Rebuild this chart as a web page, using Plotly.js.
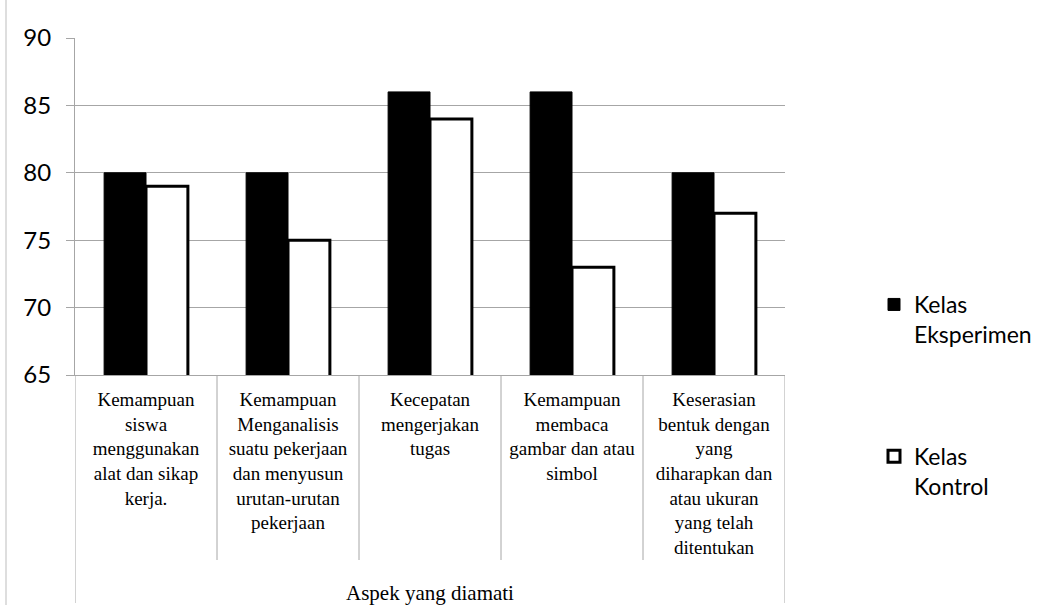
<!DOCTYPE html>
<html>
<head>
<meta charset="utf-8">
<script src="https://cdn.plot.ly/plotly-3.0.1.min.js"></script>
<style>html,body{margin:0;padding:0;background:#fff;}#chart{width:1054px;height:605px;}</style>
</head>
<body>
<div id="chart"></div>
<script>
// ---- data ----
const categoryLines = [
  ["Kemampuan", "siswa", "menggunakan", "alat dan sikap", "kerja."],
  ["Kemampuan", "Menganalisis", "suatu pekerjaan", "dan menyusun", "urutan-urutan", "pekerjaan"],
  ["Kecepatan", "mengerjakan", "tugas"],
  ["Kemampuan", "membaca", "gambar dan atau", "simbol"],
  ["Keserasian", "bentuk dengan", "yang", "diharapkan dan", "atau ukuran", "yang telah", "ditentukan"]
];
const categories = categoryLines.map(l => l.join("<br>"));
const eksperimen = [80, 80, 86, 86, 80];
const kontrol = [79, 75, 84, 73, 77];
const seriesNames = ["Kelas<br>Eksperimen", "Kelas<br>Kontrol"];
const yTicks = [65, 70, 75, 80, 85, 90];
const xTitle = "Aspek yang diamati";

// ---- layout helpers ----
const W = 1054, H = 605;
const mL = 75, mR = 269, mT = 38, mB = 230;
const plotH = H - mT - mB, plotW = W - mL - mR;
const pyFromPx = px => (H - mB - px) / plotH;
const pxToPaperX = px => (px - mL) / plotW;
const gray = '#a6a6a6';

const shapes = [];
for (let i = 0; i <= categories.length; i++) {
  const outer = (i === 0 || i === categories.length);
  shapes.push({
    type: 'line', xref: 'x', yref: 'paper',
    x0: i - 0.5, x1: i - 0.5,
    y0: 0, y1: pyFromPx(outer ? 603 : 560),
    line: {color: gray, width: 1}
  });
}
// outer chart border on the left
shapes.push({type: 'line', xref: 'paper', yref: 'paper',
  x0: pxToPaperX(6), x1: pxToPaperX(6), y0: pyFromPx(0), y1: pyFromPx(605),
  line: {color: '#bdbdbd', width: 1}});

const traces = [
  {type: 'bar', x: categories, y: eksperimen, name: seriesNames[0], legendgroup: 'a',
   marker: {color: '#000000', line: {color: '#000000', width: 1}}},
  {type: 'bar', x: categories, y: kontrol, name: seriesNames[1], legendgroup: 'b',
   marker: {color: '#ffffff', line: {color: '#000000', width: 3}}}
];

const layout = {
  width: W, height: H,
  margin: {l: mL, r: mR, t: mT, b: mB, pad: 0},
  paper_bgcolor: '#ffffff', plot_bgcolor: '#ffffff',
  barmode: 'group', bargap: 0.41, bargroupgap: 0,
  showlegend: true,
  legend: {
    x: pxToPaperX(874), xanchor: 'left',
    y: pyFromPx(283), yanchor: 'top',
    font: {family: 'Lato, "Open Sans", sans-serif', size: 23, color: '#000'},
    tracegroupgap: 89, valign: 'top', traceorder: 'grouped',
    bgcolor: 'rgba(0,0,0,0)'
  },
  xaxis: {
    type: 'category', range: [-0.5, categories.length - 0.5],
    showgrid: false, zeroline: false,
    showline: true, linecolor: gray, linewidth: 1,
    ticks: '', tickangle: 0, ticklabelstandoff: 7,
    tickfont: {family: '"Liberation Serif", "Times New Roman", serif', size: 19, color: '#000'},
    automargin: false
  },
  yaxis: {
    range: [65, 90], tickvals: yTicks, ticktext: yTicks.map(String),
    showgrid: true, gridcolor: gray, gridwidth: 1,
    zeroline: false, showline: true, linecolor: gray, linewidth: 1,
    ticks: 'outside', ticklen: 8, tickcolor: gray, tickwidth: 1,
    ticklabelstandoff: 10,
    tickfont: {family: 'Lato, "Open Sans", sans-serif', size: 24, color: '#000'},
    automargin: false
  },
  shapes: shapes,
  annotations: [{
    text: xTitle, xref: 'paper', yref: 'paper', x: 0.5, y: pyFromPx(593),
    xanchor: 'center', yanchor: 'middle', showarrow: false,
    font: {family: '"Liberation Serif", "Times New Roman", serif', size: 21, color: '#000'}
  }]
};

Plotly.newPlot('chart', traces, layout, {displayModeBar: false, staticPlot: true});
</script>
</body>
</html>
